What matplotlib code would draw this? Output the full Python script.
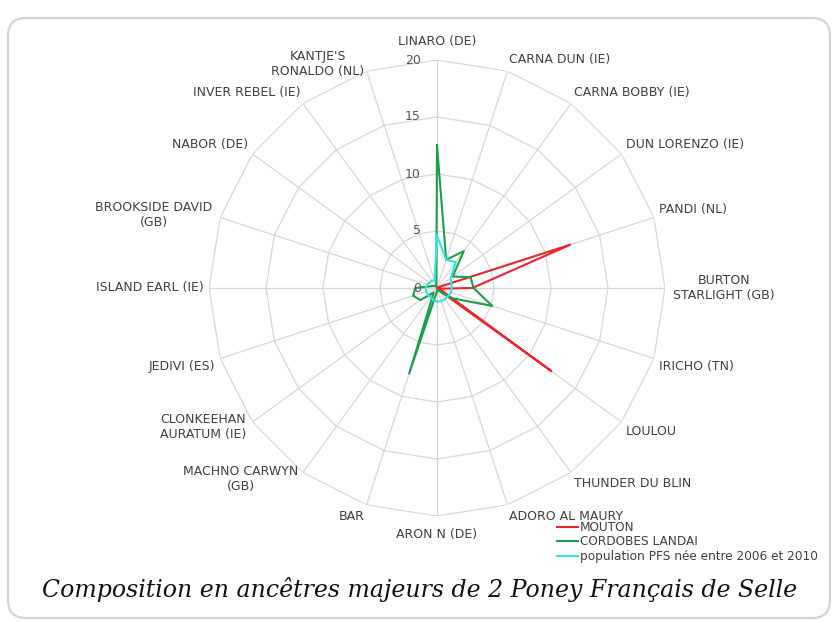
import numpy as np
import matplotlib
matplotlib.use('Agg')
import matplotlib.pyplot as plt
from matplotlib.patches import FancyBboxPatch

# Ancestors (clockwise from the top)
ancestors = ["LINARO (DE)", "CARNA DUN (IE)", "CARNA BOBBY (IE)", "DUN LORENZO (IE)",
             "PANDI (NL)", "BURTON\nSTARLIGHT (GB)", "IRICHO (TN)", "LOULOU",
             "THUNDER DU BLIN", "ADORO AL MAURY", "ARON N (DE)", "BAR",
             "MACHNO CARWYN\n(GB)", "CLONKEEHAN\nAURATUM (IE)", "JEDIVI (ES)",
             "ISLAND EARL (IE)", "BROOKSIDE DAVID\n(GB)", "NABOR (DE)",
             "INVER REBEL (IE)", "KANTJE'S\nRONALDO (NL)"]

# Contribution (%) of each ancestor
mouton = [0.0, 0.0, 0.0, 0.1, 12.3, 3.1, 0.2, 12.4, 0.2, 0.1,
          0.0, 0.0, 0.0, 0.0, 0.0, 0.0, 0.0, 0.0, 0.0, 0.0]
cordobes = [12.5, 2.6, 4.0, 1.7, 3.1, 3.2, 5.1, 1.5, 0.3, 0.2,
            0.3, 7.9, 0.5, 1.8, 2.2, 1.9, 0.5, 0.3, 0.2, 0.2]
population = [4.6, 2.6, 2.8, 1.5, 1.3, 1.3, 1.3, 1.2, 1.2, 1.2,
              1.2, 1.1, 1.0, 1.0, 1.0, 1.0, 0.9, 0.8, 0.8, 0.7]

series_names = ["MOUTON", "CORDOBES LANDAI", "population PFS née entre 2006 et 2010"]
rings = [5, 10, 15, 20]
ring_labels = [0, 5, 10, 15, 20]

n = len(ancestors)
theta = np.arange(n) * 2 * np.pi / n
th = np.append(theta, theta[0])

W, H = 838, 622
fig = plt.figure(figsize=(W / 100, H / 100), dpi=100)

# background rounded frame
bg = fig.add_axes([0, 0, 1, 1])
bg.set_xlim(0, W)
bg.set_ylim(H, 0)
bg.axis('off')
bg.add_patch(FancyBboxPatch((8, 18), 822, 600, boxstyle='round,pad=0,rounding_size=18',
                            fc='white', ec='#d4d4d4', lw=1.6))

cx, cy, R = 437, 288, 228
ax = fig.add_axes([(cx - R) / W, (H - cy - R) / H, 2 * R / W, 2 * R / H], projection='polar')
ax.set_theta_zero_location('N')
ax.set_theta_direction(-1)
ax.set_ylim(0, 20)
ax.grid(False)
ax.spines['polar'].set_visible(False)
ax.set_xticks([])
ax.set_yticks([])
ax.patch.set_alpha(0)

# polygon grid
for r in rings:
    ax.plot(th, [r] * (n + 1), color='#d6d6d6', lw=0.9, zorder=1)
for t in theta:
    ax.plot([t, t], [0, 20], color='#d6d6d6', lw=0.9, zorder=1)

# series
ax.plot(th, np.append(mouton, mouton[0]), color='#e8262b', lw=1.5, label=series_names[0], zorder=3)
ax.plot(th, np.append(cordobes, cordobes[0]), color='#1f9e4a', lw=1.5, label=series_names[1], zorder=4)
ax.plot(th, np.append(population, population[0]), color='#35e3e3', lw=1.5, label=series_names[2], zorder=5)

# radial values
for v in ring_labels:
    ax.annotate(str(v), xy=(0, v), xytext=(-16, 0), textcoords='offset pixels',
                ha='right', va='center', fontsize=9, color='#555555', zorder=6,
                annotation_clip=False)

# category labels
for t, lab in zip(theta, ancestors):
    s, c = np.sin(t), np.cos(t)
    ha = 'left' if s > 0.1 else ('right' if s < -0.1 else 'center')
    if '\n' in lab:
        va = 'center'
        off = 8
    else:
        va = 'bottom' if c > 0.1 else ('top' if c < -0.1 else 'center')
        off = 12 if ha == 'center' else 5
    ax.annotate(lab, xy=(t, 20), xytext=(off * s, off * c), textcoords='offset pixels',
                ha=ha, va=va, multialignment='center', fontsize=9, color='#404040',
                annotation_clip=False)

fig.legend(loc='upper left', bbox_to_anchor=(557 / W, 1 - 521 / H), handlelength=1.7,
           handletextpad=0.2, labelspacing=0.12, borderpad=0, borderaxespad=0,
           frameon=False, fontsize=8.7, labelcolor='#404040')

fig.text(420 / W, 1 - 589 / H, "Composition en ancêtres majeurs de 2 Poney Français de Selle",
         ha='center', va='center', fontsize=17, style='italic', family='DejaVu Serif',
         color='#111111')

fig.savefig('out.png', dpi=100)
